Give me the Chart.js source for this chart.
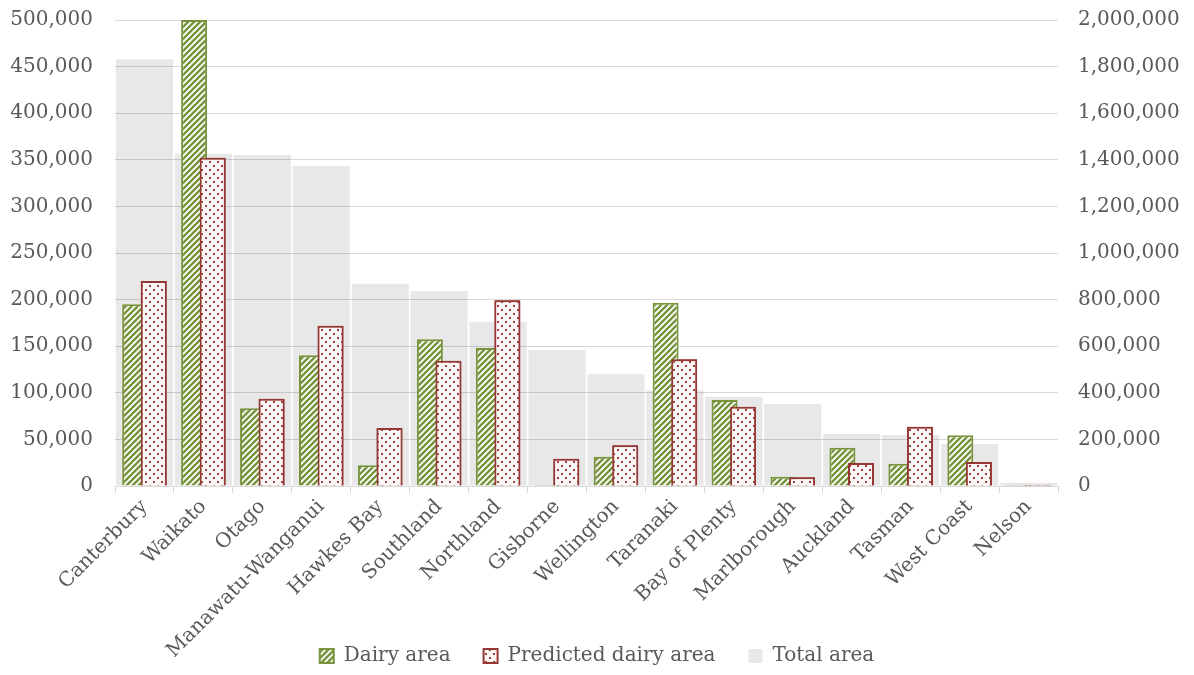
<!DOCTYPE html>
<html>
<head>
    <title>Dairy area by region</title>
    <script src="https://cdn.jsdelivr.net/npm/chart.js"></script>
    <style>
        body {
            margin: 0;
            background: #ffffff;
        }
        .chart-container {
            width: 1194px;
            height: 675px;
        }
    </style>
</head>
<body>
    <div class="chart-container">
        <canvas id="area-chart" width="1194" height="675"></canvas>
    </div>

    <script>
        // Data
        const regions = ['Canterbury', 'Waikato', 'Otago', 'Manawatu-Wanganui', 'Hawkes Bay', 'Southland',
            'Northland', 'Gisborne', 'Wellington', 'Taranaki', 'Bay of Plenty', 'Marlborough',
            'Auckland', 'Tasman', 'West Coast', 'Nelson'];
        const dairyArea = [195000, 500000, 83400, 140200, 22200, 157500, 148100, 1000,
            31500, 196700, 92300, 10000, 41100, 24000, 54400, 1000];
        const predictedDairyArea = [220000, 352300, 93700, 172000, 62200, 134400, 199200, 29300,
            43600, 135900, 85100, 9300, 24700, 63600, 25800, 1200];
        const totalArea = [1832000, 1426000, 1421000, 1373000, 868000, 837000, 705000, 584000,
            480000, 410000, 383000, 352000, 223000, 219000, 180000, 14000];
        const leftTicks = { min: 0, max: 500000, step: 50000 };
        const rightTicks = { min: 0, max: 2000000, step: 200000 };

        const textColor = '#595959';
        const gridColor = '#d9d9d9';
        const fontFamily = "'DejaVu Serif', serif";

        // Hatched fill for the dairy area bars
        function stripePattern(color) {
            const c = document.createElement('canvas');
            c.width = 6;
            c.height = 6;
            const g = c.getContext('2d');
            g.fillStyle = '#ffffff';
            g.fillRect(0, 0, 6, 6);
            g.strokeStyle = color;
            g.lineWidth = 2.4;
            g.beginPath();
            g.moveTo(-1, 7); g.lineTo(7, -1);
            g.moveTo(-4, 4); g.lineTo(4, -4);
            g.moveTo(2, 10); g.lineTo(10, 2);
            g.stroke();
            return g.createPattern(c, 'repeat');
        }

        // Dotted fill for the predicted bars
        function dotPattern(color) {
            const c = document.createElement('canvas');
            c.width = 8;
            c.height = 8;
            const g = c.getContext('2d');
            g.fillStyle = '#fbf7f7';
            g.fillRect(0, 0, 8, 8);
            g.fillStyle = color;
            g.fillRect(1, 1, 2, 2);
            g.fillRect(5, 5, 2, 2);
            return g.createPattern(c, 'repeat');
        }

        // predicted bars sit over the dairy bars, so draw them once more at the end
        const predictedOnTop = {
            id: 'predictedOnTop',
            afterDatasetsDraw(chart) {
                const area = chart.chartArea;
                const c = chart.ctx;
                c.save();
                c.beginPath();
                c.rect(area.left, area.top, area.right - area.left, area.bottom - area.top);
                c.clip();
                chart.getDatasetMeta(1).controller.draw();
                c.restore();
            }
        };

        // let the legend share space with the long rotated labels
        const legendPlacement = {
            id: 'legendPlacement',
            afterLayout(chart) {
                const lg = chart.legend;
                lg.top = 613;
                lg.bottom = 675;
                lg.height = 62;
            }
        };

        const ctx = document.getElementById('area-chart').getContext('2d');
        const fmt = v => Number(v).toLocaleString('en-US');
        const noPad = scale => { scale.paddingTop = 0; scale.paddingBottom = 0; };

        new Chart(ctx, {
            type: 'bar',
            data: {
                labels: regions,
                datasets: [{
                    label: 'Dairy area',
                    data: dairyArea,
                    yAxisID: 'y',
                    backgroundColor: stripePattern('#77933c'),
                    borderColor: '#77933c',
                    borderWidth: 2,
                    categoryPercentage: 0.63,
                    barPercentage: 1.4
                }, {
                    label: 'Predicted dairy area',
                    data: predictedDairyArea,
                    yAxisID: 'y',
                    backgroundColor: dotPattern('#a33c3c'),
                    borderColor: '#953735',
                    borderWidth: 2,
                    categoryPercentage: 0.63,
                    barPercentage: 1.4
                }, {
                    label: 'Total area',
                    data: totalArea,
                    yAxisID: 'y2',
                    backgroundColor: 'rgba(0, 0, 0, 0.09)',
                    borderWidth: 0,
                    grouped: false,
                    categoryPercentage: 1,
                    barPercentage: 0.97
                }]
            },
            options: {
                responsive: false,
                animation: false,
                layout: {
                    padding: { top: 20, left: 0, right: 0, bottom: 0 }
                },
                plugins: {
                    tooltip: { enabled: false },
                    legend: {
                        position: 'bottom',
                        maxHeight: 1,
                        labels: {
                            color: textColor,
                            font: { family: fontFamily, size: 20 },
                            boxWidth: 14,
                            boxHeight: 14,
                            padding: 33
                        }
                    }
                },
                scales: {
                    x: {
                        grid: {
                            display: true,
                            drawOnChartArea: false,
                            drawTicks: true,
                            tickLength: 7,
                            color: gridColor
                        },
                        border: { color: gridColor },
                        ticks: {
                            color: textColor,
                            font: { family: fontFamily, size: 20 },
                            minRotation: 45,
                            maxRotation: 45,
                            padding: 2,
                            autoSkip: false
                        },
                        afterFit: scale => { scale.height = 188; }
                    },
                    y: {
                        position: 'left',
                        min: leftTicks.min,
                        max: leftTicks.max,
                        grid: { color: gridColor, drawTicks: false },
                        border: { display: false },
                        ticks: {
                            stepSize: leftTicks.step,
                            color: textColor,
                            font: { family: fontFamily, size: 20 },
                            padding: 22,
                            callback: fmt
                        },
                        afterFit: scale => { scale.width = 115; noPad(scale); }
                    },
                    y2: {
                        position: 'right',
                        min: rightTicks.min,
                        max: rightTicks.max,
                        grid: { drawOnChartArea: false, drawTicks: false },
                        border: { display: false },
                        ticks: {
                            stepSize: rightTicks.step,
                            color: textColor,
                            font: { family: fontFamily, size: 20 },
                            padding: 20,
                            callback: fmt
                        },
                        afterFit: scale => { scale.width = 136; noPad(scale); }
                    }
                }
            },
            plugins: [predictedOnTop, legendPlacement]
        });
    </script>
</body>
</html>
